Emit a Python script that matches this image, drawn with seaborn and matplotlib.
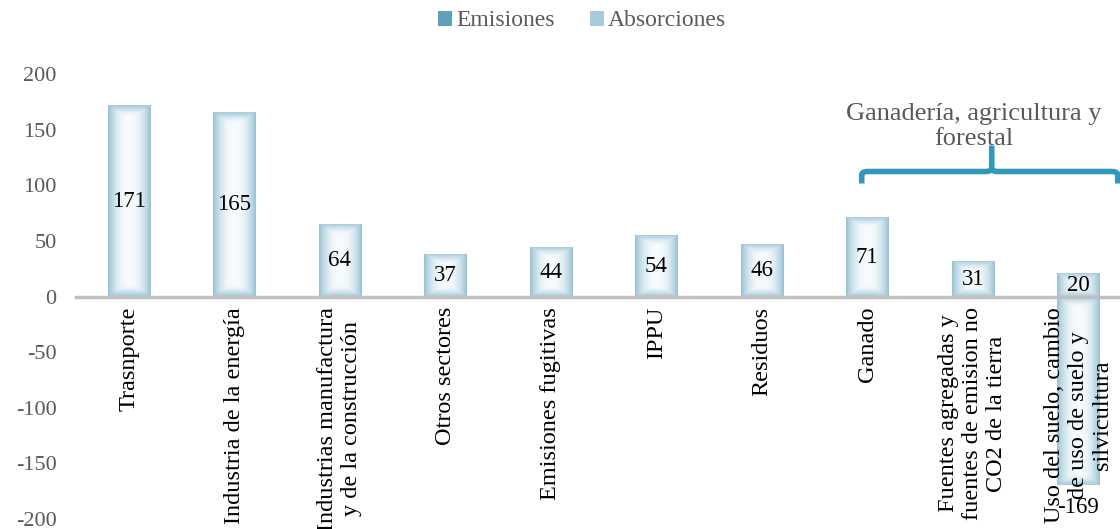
import numpy as np
import pandas as pd
import matplotlib
matplotlib.use("Agg")
import matplotlib.pyplot as plt
import seaborn as sns
from matplotlib.patches import Patch
from matplotlib.path import Path
from matplotlib.patches import PathPatch

categories = [
    "Trasnporte",
    "Industria de la energía",
    "Industrias manufactura\ny de la construcción",
    "Otros sectores",
    "Emisiones fugitivas",
    "IPPU",
    "Residuos",
    "Ganado",
    "Fuentes agregadas y\nfuentes de emision no\nCO2 de la tierra",
    "Uso del suelo, cambio\nde uso de suelo y\nsilvicultura",
]
emisiones = [171, 165, 64, 37, 44, 54, 46, 71, 31, 20]
absorciones = [0, 0, 0, 0, 0, 0, 0, 0, 0, -169]
series_names = ["Emisiones", "Absorciones"]
yticks = [-200, -150, -100, -50, 0, 50, 100, 150, 200]
bracket_text = "Ganadería, agricultura y\nforestal"

sns.set_style("white")
plt.rcParams["font.family"] = ["Liberation Serif", "DejaVu Serif"]

df = pd.DataFrame({
    "cat": categories * 2,
    "value": emisiones + absorciones,
    "serie": [series_names[0]] * len(categories) + [series_names[1]] * len(categories),
})

fig = plt.figure(figsize=(11.2, 5.29), dpi=100)
ax = fig.add_axes([76 / 1120, 10 / 529, 1055 / 1120, 445 / 529])

sns.barplot(data=df, x="cat", y="value", hue="serie", dodge=False, width=0.4,
            palette=["#9ec4d6", "#a9cadb"], ax=ax, legend=False, errorbar=None)

ax.set_ylim(-200, 200)
ax.set_xlim(-0.5, len(categories) - 0.5)

# gradient fill for each bar
edge = np.array([0.60, 0.76, 0.83])
center = np.array([0.97, 0.985, 0.995])
nx, ny = 60, 80
xs = np.linspace(0, 1, nx)
tx = np.abs(xs - 0.5) * 2
for p in list(ax.patches):
    h = p.get_height()
    if abs(h) < 1e-9:
        continue
    x0, y0, w = p.get_x(), p.get_y(), p.get_width()
    ys = np.linspace(0, 1, ny)
    ty = np.clip(1 - np.minimum(ys, 1 - ys) * abs(h) * 1.11 / 10, 0, 1)
    TX, TY = np.meshgrid(tx, ty)
    t = np.clip(np.maximum(TX ** 2.2, TY ** 1.5 * 0.8), 0, 1)
    img = center[None, None, :] * (1 - t[..., None]) + edge[None, None, :] * t[..., None]
    ybot, ytop = min(y0, y0 + h), max(y0, y0 + h)
    ax.imshow(img, extent=[x0, x0 + w, ybot, ytop], aspect="auto",
              origin="lower", zorder=2, interpolation="bilinear")
    p.set_visible(False)

ax.set_ylim(-200, 200)
ax.set_xlim(-0.5, len(categories) - 0.5)

# value labels
for i, v in enumerate(emisiones):
    ax.text(i, v / 2, f"{v}", ha="center", va="center", fontsize=16.5, color="#000000", zorder=5)
for i, v in enumerate(absorciones):
    if v != 0:
        ax.text(i, v - 21, f"{v}", ha="center", va="center", fontsize=16.5, color="#000000", zorder=5)

# axes styling
ax.set_axisbelow(False)
for s in ["top", "right", "left"]:
    ax.spines[s].set_visible(False)
ax.spines["bottom"].set_position(("data", 0))
ax.spines["bottom"].set_color("#bfbfbf")
ax.spines["bottom"].set_linewidth(2.5)
ax.spines["bottom"].set_zorder(3)
ax.set_yticks(yticks)
ax.set_yticklabels([str(v) for v in yticks], fontsize=16, color="#595959")
ax.tick_params(axis="y", length=0, pad=14)
ax.set_xticks(range(len(categories)))
ax.set_xticklabels(categories, rotation=90, fontsize=17.5, color="#000000",
                   ha="center", va="top", multialignment="center")
ax.tick_params(axis="x", length=0, pad=7.5)
ax.xaxis.set_zorder(6)
ax.set_xlabel("")
ax.set_ylabel("")
ax.grid(False)

# bracket
def px2x(px):
    return (px - 129) / 105.5

def px2y(py):
    return (296 - py) / 1.1125

xl, xr, xc = px2x(862), px2x(1118), px2x(992)
yh, ye, yt = px2y(171), px2y(183), px2y(145)
r = 0.06
verts = [(xl, ye), (xl, yh - 3), (xl, yh), (xl + r, yh),
         (xc - r, yh), (xc, yh), (xc, yh + 3), (xc, yt)]
codes = [Path.MOVETO, Path.LINETO, Path.CURVE3, Path.CURVE3,
         Path.LINETO, Path.CURVE3, Path.CURVE3, Path.LINETO]
verts2 = [(xr, ye), (xr, yh - 3), (xr, yh), (xr - r, yh),
          (xc + r, yh), (xc, yh), (xc, yh + 3)]
codes2 = [Path.MOVETO, Path.LINETO, Path.CURVE3, Path.CURVE3,
          Path.LINETO, Path.CURVE3, Path.CURVE3]
for v, c in [(verts, codes), (verts2, codes2)]:
    ax.add_patch(PathPatch(Path(v, c), facecolor="none", edgecolor="#3396bd",
                           lw=4, capstyle="butt", joinstyle="round", zorder=4, clip_on=False))

ax.text(px2x(974), px2y(126), bracket_text, ha="center", va="center",
        fontsize=19, color="#595959", multialignment="center", zorder=5)

handles = [Patch(facecolor="#5f9fb8", edgecolor="none"),
           Patch(facecolor="#a7c9dc", edgecolor="none")]
fig.legend(handles, series_names, loc="center", bbox_to_anchor=(582 / 1120, 1 - 21 / 529),
           ncol=2, frameon=False, fontsize=17, handlelength=0.6, handleheight=0.6,
           handletextpad=0.15, columnspacing=1.5, labelcolor="#595959")

fig.savefig("out.png", dpi=100)
